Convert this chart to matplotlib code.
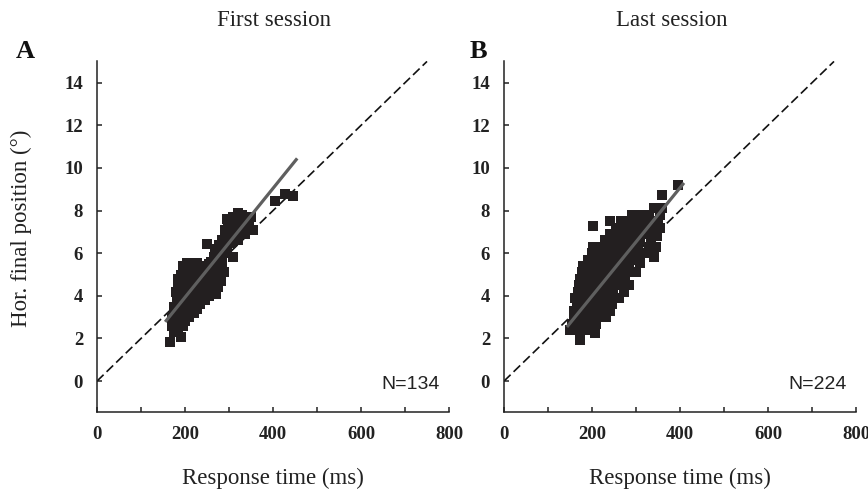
import matplotlib
matplotlib.use("Agg")
import matplotlib.pyplot as plt
from matplotlib.ticker import MultipleLocator

# ---------------- data ----------------
# Panel A (first session): response time (ms), horizontal final position (deg)
a_rt = [166, 190, 175, 185, 170, 195, 180, 200, 170, 190, 210, 178, 200, 220, 185, 205,
        228, 175, 195, 215, 235, 182, 200, 222, 245, 190, 210, 230, 255, 270, 180, 200,
        220, 240, 262, 190, 210, 232, 250, 275, 185, 205, 225, 245, 265, 282, 195, 215,
        235, 255, 275, 190, 210, 230, 250, 270, 288, 200, 220, 240, 260, 280, 195, 215,
        235, 255, 275, 205, 228, 285, 309, 265, 280, 290, 250, 275, 295, 305, 285, 320,
        300, 315, 290, 330, 305, 325, 295, 340, 310, 330, 355, 345, 350, 320, 405, 428,
        445, 172, 188, 183, 198, 212, 226, 242, 258, 268, 278, 298, 312, 336]
a_pos = [1.85, 2.05, 2.3, 2.5, 2.6, 2.6, 2.8, 2.8, 3.0, 3.0, 3.0, 3.2, 3.2, 3.2, 3.4, 3.4,
         3.4, 3.5, 3.6, 3.6, 3.6, 3.8, 3.8, 3.8, 3.8, 4.0, 4.0, 4.0, 4.0, 4.1, 4.2, 4.2,
         4.2, 4.2, 4.3, 4.4, 4.4, 4.4, 4.4, 4.4, 4.6, 4.6, 4.6, 4.6, 4.6, 4.7, 4.8, 4.8,
         4.8, 4.8, 4.9, 5.0, 5.0, 5.0, 5.0, 5.0, 5.1, 5.2, 5.2, 5.2, 5.2, 5.3, 5.4, 5.4,
         5.4, 5.5, 5.5, 5.55, 5.55, 5.6, 5.8, 5.8, 5.9, 6.0, 6.45, 6.1, 6.3, 6.5, 6.6, 6.6,
         6.8, 7.0, 7.1, 7.1, 7.3, 7.4, 7.6, 7.5, 7.7, 7.8, 7.1, 7.3, 7.7, 7.9, 8.45, 8.8,
         8.7, 2.9, 3.1, 4.8, 5.3, 3.9, 4.9, 5.0, 5.6, 6.2, 6.4, 7.2, 7.5, 6.9]

# Panel B (last session)
b_rt = [173, 207, 150, 165, 185, 155, 170, 190, 210, 158, 175, 195, 215, 232,
        160, 180, 200, 220, 240, 165, 185, 205, 225, 245, 162, 180, 200, 220, 240, 262,
        168, 188, 208, 228, 248, 272, 170, 190, 210, 230, 250, 270, 285,
        172, 192, 212, 232, 252, 275, 178, 198, 218, 238, 258, 280, 300,
        180, 200, 220, 240, 262, 285, 310, 190, 210, 230, 250, 270, 290, 340,
        200, 220, 240, 260, 280, 300, 320, 202, 225, 245, 265, 285, 305, 330, 345,
        230, 250, 270, 290, 310, 335, 240, 260, 280, 300, 320, 347,
        255, 275, 295, 315, 335, 355, 202, 241, 265, 285, 305, 330, 350,
        290, 310, 330, 355, 340, 360, 359, 395,
        182, 196, 214, 236, 254, 268, 292, 312, 326, 188, 206, 226, 246, 276, 296, 318]
b_pos = [1.93, 2.25, 2.4, 2.4, 2.4, 2.7, 2.7, 2.7, 2.7, 3.0, 3.0, 3.0, 3.0, 3.0,
         3.3, 3.3, 3.3, 3.3, 3.3, 3.6, 3.6, 3.6, 3.6, 3.6, 3.9, 3.9, 3.9, 3.9, 3.9, 3.9,
         4.2, 4.2, 4.2, 4.2, 4.2, 4.2, 4.5, 4.5, 4.5, 4.5, 4.5, 4.5, 4.5,
         4.8, 4.8, 4.8, 4.8, 4.8, 4.8, 5.1, 5.1, 5.1, 5.1, 5.1, 5.1, 5.1,
         5.4, 5.4, 5.4, 5.4, 5.4, 5.4, 5.55, 5.7, 5.7, 5.7, 5.7, 5.7, 5.7, 5.8,
         6.0, 6.0, 6.0, 6.0, 6.0, 6.0, 6.0, 6.3, 6.3, 6.3, 6.3, 6.3, 6.3, 6.3, 6.3,
         6.6, 6.6, 6.6, 6.6, 6.6, 6.6, 6.9, 6.9, 6.9, 6.9, 6.9, 6.8,
         7.2, 7.2, 7.2, 7.2, 7.2, 7.2, 7.3, 7.5, 7.5, 7.5, 7.5, 7.5, 7.5,
         7.8, 7.8, 7.8, 7.8, 8.1, 8.1, 8.75, 9.2,
         3.4, 4.0, 4.6, 5.0, 5.6, 6.1, 6.5, 7.0, 7.1, 4.9, 5.2, 5.5, 5.9, 6.4, 7.0, 7.4]

# regression line end points
fit_a_x = [155, 455]
fit_a_y = [2.78, 10.45]
fit_b_x = [143, 409]
fit_b_y = [2.54, 9.3]

# dashed reference line
ref_x = [0, 750]
ref_y = [0, 15]

titles = ["First session", "Last session"]
letters = ["A", "B"]
n_labels = ["N=134", "N=224"]
xticks = [0, 200, 400, 600, 800]
yticks = [0, 2, 4, 6, 8, 10, 12, 14]

# ---------------- figure ----------------
W, H = 868, 490
fig = plt.figure(figsize=(W / 100, H / 100), dpi=100)

serif = ["Liberation Serif", "DejaVu Serif"]
sans = ["Liberation Sans", "DejaVu Sans"]

panels = [
    (97, a_rt, a_pos, fit_a_x, fit_a_y),
    (504, b_rt, b_pos, fit_b_x, fit_b_y),
]

for i, (left_px, rt, pos, fx, fy) in enumerate(panels):
    ax = fig.add_axes([left_px / W, (H - 412) / H, 352 / W, 351 / H])
    ax.set_xlim(0, 800)
    ax.set_ylim(-1.45, 15.02)
    for s in ["top", "right"]:
        ax.spines[s].set_visible(False)
    for s in ["left", "bottom"]:
        ax.spines[s].set_linewidth(1.1)
        ax.spines[s].set_color("#222222")

    ax.plot(ref_x, ref_y, color="#111111", lw=1.2, ls=(0, (5.5, 2.5)), zorder=2)
    ax.plot(rt, pos, ls="none", marker="s", ms=6.5, mfc="#231f20", mec="#231f20",
            mew=0, zorder=3)
    ax.plot(fx, fy, color="#5f5f5f", lw=2.3, solid_capstyle="butt", zorder=4)

    ax.set_xticks(xticks)
    ax.xaxis.set_minor_locator(MultipleLocator(100))
    ax.set_yticks(yticks)
    ax.tick_params(axis="both", which="both", direction="in", length=3.5, width=1.1,
                   color="#222222")
    ax.tick_params(axis="x", pad=10)
    ax.tick_params(axis="y", pad=10)
    for lab in ax.get_xticklabels() + ax.get_yticklabels():
        lab.set_fontfamily(serif)
        lab.set_fontweight("bold")
        lab.set_fontsize(13.5)
        lab.set_color("#222222")

    ax.text(780, -0.15, n_labels[i], ha="right", va="center", fontsize=14,
            family=sans, color="#222222")

    fig.text((274 if i == 0 else 672) / W, 1 - 21 / H, titles[i], ha="center",
             va="center", fontsize=16.5, family=serif, color="#222222")
    fig.text((273 if i == 0 else 680) / W, 1 - 478 / H, "Response time (ms)",
             ha="center", va="center", fontsize=16.5, family=serif, color="#222222")
    fig.text((25 if i == 0 else 478) / W, 1 - 52 / H, letters[i], ha="center",
             va="center", fontsize=19, family=serif, fontweight="bold", color="#111111")

fig.text(21 / W, 1 - 228 / H, "Hor. final position (°)", rotation=90, ha="center",
         va="center", fontsize=16.5, family=serif, color="#222222")

fig.savefig("out.png", dpi=100)
